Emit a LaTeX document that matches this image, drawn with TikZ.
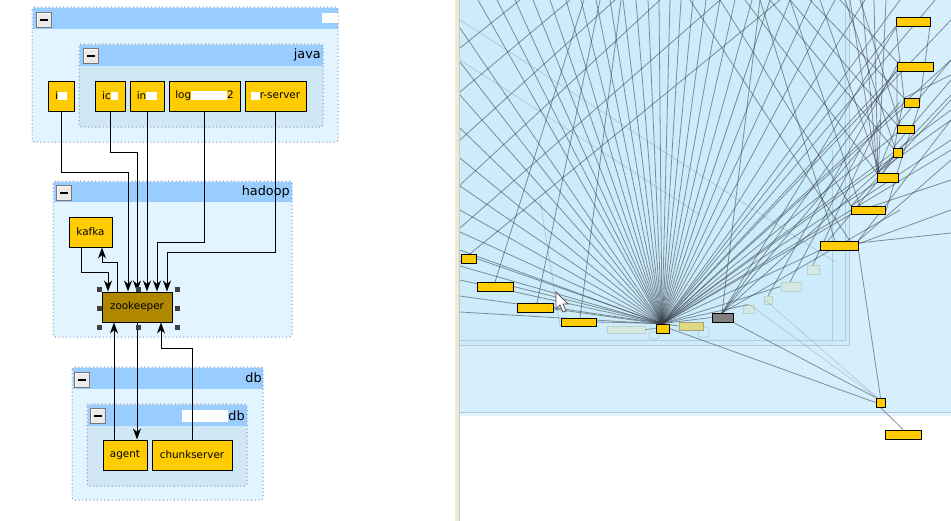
\documentclass[tikz,border=0pt]{standalone}
\usepackage{fontspec}
\setmainfont{DejaVu Sans}
\usetikzlibrary{arrows.meta,fit}
\definecolor{hdr}{RGB}{153,204,255}
\definecolor{gbody}{RGB}{226,244,255}
\definecolor{gbodyin}{RGB}{208,232,245}
\definecolor{gborder}{RGB}{128,144,176}
\definecolor{ynode}{RGB}{255,204,0}
\definecolor{zoocol}{RGB}{176,136,0}
\definecolor{pnlin}{RGB}{204,235,251}
\definecolor{pnlout}{RGB}{213,239,252}
\definecolor{pnlband}{RGB}{228,244,252}
\definecolor{gline}{RGB}{178,202,224}
\definecolor{sepcol}{RGB}{236,233,216}
\definecolor{sepline}{RGB}{205,200,185}
\definecolor{fadefill}{RGB}{214,232,226}
\definecolor{fadedraw}{RGB}{188,210,206}
\definecolor{khaki}{RGB}{226,216,128}
\definecolor{khakidraw}{RGB}{170,165,120}
\definecolor{edgecol}{RGB}{55,62,70}
\definecolor{btnfill}{RGB}{234,234,234}
\definecolor{btndraw}{RGB}{120,120,120}
\definecolor{handlecol}{RGB}{64,64,64}
\definecolor{greynode}{RGB}{128,128,128}
\definecolor{cursordraw}{RGB}{90,90,90}
\newcommand\redact[2]{\textcolor{white}{\rule[-0.8pt]{#1}{#2}}}
\newcommand\mygroup[6]{%
  \fill[#6, rounded corners=2] (#1,#2) rectangle (#3,#4);
  \fill[hdr] (#1+0.5,#2+0.5) rectangle (#3-0.5,#5);
  \draw[gborder, dotted, line width=0.75pt, rounded corners=2] (#1,#2) rectangle (#3,#4);}
\newcommand\minusbtn[2]{%
  \draw[fill=btnfill, draw=btndraw, line width=0.75pt] (#1,#2) rectangle (#1+15,#2+15);
  \draw[white, line width=0.75pt] (#1+1.5,#2+13.5) -- (#1+1.5,#2+1.5) -- (#1+13.5,#2+1.5);
  \fill[black] (#1+3.5,#2+6.5) rectangle (#1+11.5,#2+8.5);}
\tikzset{
  ybox/.style={draw=black, fill=ynode, line width=0.75pt, inner sep=0pt},
  txt/.style={label={[inner sep=0pt, font=\fontsize{7.8}{9}\selectfont]center:#1}},
  rbox/.style={draw=black, fill=ynode, line width=0.75pt, inner sep=0pt},
  fadebox/.style={draw=fadedraw, fill=fadefill, line width=0.75pt, inner sep=0pt},
  hdrtext/.style={font=\fontsize{9.6}{11}\selectfont, inner sep=0pt, anchor=east},
  arr/.style={line width=0.75pt, -{Stealth[length=8.2pt,width=6pt,inset=2.5pt]}},
  edge/.style={draw=edgecol, draw opacity=0.55, line width=0.6pt},
  faint/.style={draw=edgecol, draw opacity=0.18, line width=0.6pt},
  handle/.style={fill=handlecol}
}
\begin{document}
\begin{tikzpicture}[x=0.75pt,y=-0.75pt]
\useasboundingbox (0,0) rectangle (951,521);
\fill[white] (0,0) rectangle (951,521);

% ---------------- left panel: groups ----------------
\mygroup{32}{7}{338}{142}{29}{gbody}
\minusbtn{36}{12}
\fill[white] (322,13) rectangle (338,23);
\mygroup{79}{44}{323}{127}{66}{gbodyin}
\minusbtn{83}{48}
\node[hdrtext] (javat) at (321,55) {java};

\mygroup{53}{181}{292}{337}{202}{gbody}
\minusbtn{56}{185}
\node[hdrtext] (hadoopt) at (290,192) {hadoop};

\mygroup{72}{367}{263}{500}{389}{gbody}
\minusbtn{74}{372}
\node[hdrtext] (dbt) at (262,378) {db};
\mygroup{87}{404}{247}{486}{426}{gbodyin}
\minusbtn{90}{408}
\node[hdrtext] (dbint) at (245,416) {\redact{35pt}{9pt}db};

% ---------------- left panel: nodes ----------------
\node[ybox, fit={(48,81)(74,111)}, txt={i\redact{6.75pt}{6pt}}] (i) {};
\node[ybox, fit={(95,81)(125,111)}, txt={ic\redact{5.25pt}{6pt}}] (ic) {};
\node[ybox, fit={(130,81)(164,111)}, txt={in\redact{8.25pt}{6pt}}] (in) {};
\node[ybox, fit={(169,81)(240,111)}, txt={log\redact{27pt}{6.5pt}2}] (log) {};
\node[ybox, fit={(245,81)(306,111)}, txt={\redact{6.75pt}{6pt}r-server}] (rsrv) {};
\node[ybox, fit={(69,217)(112,247)}, txt={kafka}] (kafka) {};
\node[ybox, fill=zoocol, fit={(102,292)(172,322)}, txt={zookeeper}] (zoo) {};
\node[ybox, fit={(103,440)(147,470)}, txt={agent}] (agent) {};
\node[ybox, fit={(152,440)(232,470)}, txt={chunkserver}] (chunk) {};

% ---------------- left panel: connectors ----------------
\coordinate (b1) at (128,172);
\draw[arr] (i.south) |- (b1) -- (b1 |- zoo.north);
\coordinate (b2) at (137,152);
\draw[arr] (ic.south) |- (b2) -- (b2 |- zoo.north);
\draw[arr] (in.south) -- (in.south |- zoo.north);
\coordinate (b3) at (157,242);
\draw[arr] (log.south) |- (b3) -- (b3 |- zoo.north);
\coordinate (b4) at (167,252);
\draw[arr] (rsrv.south) |- (b4) -- (b4 |- zoo.north);
\coordinate (b5) at (81,272);
\coordinate (b6) at (108,272);
\draw[arr] (b5 |- kafka.south) -- (b5) -- (b6) -- (b6 |- zoo.north);
\coordinate (b7) at (117,262);
\coordinate (b8) at (102,262);
\draw[arr] (b7 |- zoo.north) -- (b7) -- (b8) -- (b8 |- kafka.south);
\coordinate (b9) at (114,0);
\draw[arr] (b9 |- agent.north) -- (b9 |- zoo.south);
\coordinate (b10) at (137,0);
\draw[arr] (b10 |- zoo.south) -- (b10 |- agent.north);
\coordinate (b11) at (161,348);
\draw[arr] (chunk.north) |- (b11) -- (b11 |- zoo.south);

\foreach \hx/\hy in {99/289,138/289,177/289,99/308,177/308,99/327,138/327,177/327}
  \fill[handle] (\hx-2.5,\hy-2.5) rectangle (\hx+2.5,\hy+2.5);

% ---------------- right panel: background ----------------
\fill[sepcol] (455,0) rectangle (460,521);
\draw[sepline, line width=0.75pt] (459.5,0) -- (459.5,521);
\fill[pnlout] (460,0) rectangle (951,412);
\fill[pnlin] (460,0) rectangle (849,345);
\draw[gline, line width=0.75pt] (460,345) -- (849,345) -- (849,0);
\draw[gline, line width=0.6pt] (460,340) -- (845,340) -- (845,0);
\draw[gline, line width=0.6pt] (832,340) -- (832,150);
\fill[pnlband] (460,412) rectangle (951,416);
\draw[gline, line width=0.75pt] (460,412) -- (951,412);

% faded nodes
\node[fadebox, fit={(607,326)(645,333)}] (f1) {};
\node[fadebox, fit={(743,305)(754,313)}] (f3) {};
\node[fadebox, fit={(764,296)(772,304)}] (f4) {};
\node[fadebox, fit={(781,282)(801,291)}] (f5) {};
\node[fadebox, fit={(807,265)(819,274)}] (f6) {};
\node[draw=fadedraw, line width=0.75pt, rounded corners=2, inner sep=0pt, fit={(649,332)(659,339)}] (o1) {};
\node[draw=fadedraw, line width=0.75pt, rounded corners=2, inner sep=0pt, fit={(698,327)(709,337)}] (o2) {};

\coordinate (cnp) at (662,324);

\begin{scope}
\clip (460,0) rectangle (951,521);
% fan from the central node to the top edge
\foreach \t in {478,497,515,533,550,566,581,596,610,623,636,648,659,670,681,693,706,720,735,752,770,790,812,835,865,900,935}
  \draw[edge] (cnp) -- (\t,0);
% fan to the left edge
\foreach \t in {28,62,95,128,158,186,210,232,250,266,280,296,312}
  \draw[edge] (cnp) -- (460,\t);
% fan to the right edge
\foreach \t in {20,60,110,150}
  \draw[edge] (cnp) -- (951,\t);
% lattice rising to the right in the upper left
\foreach \a/\b in {48/520,92/570,140/615,185/660,228/720,262/780}
  \draw[edge] (460,\a) -- (\b,0);
\draw[edge] (495,282) -- (584,0);
\draw[edge] (537,303) -- (600,0);
\draw[edge] (580,318) -- (621,0);
% lines from the right column going up-left
\foreach \a/\b/\c in {850/241/690,851/206/720,877/173/745,893/148/770,897/125/790,904/98/810,897/62/840,835/241/760,860/206/790,880/173/820,895/148/845,900/125/860}
  \draw[edge] (\a,\b) -- (\c,0);
% chain along the right column
\draw[edge] (896,26) -- (904,98) -- (897,133) -- (893,157) -- (877,182) -- (851,214) -- (820,250);
\draw[edge] (897,71) -- (897,125) -- (877,173);
\draw[edge] (930,26) -- (919,107) -- (902,157) -- (885,214);
\foreach \t in {850,862,874,886}
  \draw[edge] (\t,0) -- (878,178);
% right edge lines
\foreach \a/\b/\c in {893/148/80,877/173/95,877/173/120,851/206/100,851/206/140,858/241/120,858/241/160,897/125/60,904/98/75,852/213/180,855/245/210,858/243/233}
  \draw[edge] (\a,\b) -- (951,\c);
% grey node lines
\foreach \t in {21,66,102,152,210}
  \draw[edge] (722,313) -- (900,\t);
\draw[edge] (722,313) -- (760,0);
\draw[edge] (790,282) -- (860,150);
\draw[edge] (813,265) -- (880,120);
\draw[edge] (768,296) -- (900,60);
% faint lines
\draw[faint] (460,20) -- (835,262);
\draw[faint] (460,60) -- (700,215);
\draw[faint] (750,305) -- (880,400);
\draw[faint] (560,326) -- (540,200);
\draw[faint] (765,300) -- (880,400);
\end{scope}

% right panel nodes
\node[draw=khakidraw, fill=khaki, line width=0.75pt, inner sep=0pt, fit={(679,322)(703,330)}] (f2) {};
\node[rbox, fit={(656,324)(669,333)}] (cn) {};
\node[rbox, fill=greynode, fit={(712,313)(733,322)}] (gn) {};
\node[rbox, fit={(461,254)(476,263)}] (L1) {};
\node[rbox, fit={(477,282)(513,291)}] (L2) {};
\node[rbox, fit={(517,303)(553,312)}] (L3) {};
\node[rbox, fit={(561,318)(596,326)}] (L4) {};
\node[rbox, fit={(896,17)(930,26)}] (R1) {};
\node[rbox, fit={(897,62)(933,71)}] (R2) {};
\node[rbox, fit={(904,98)(919,107)}] (R3) {};
\node[rbox, fit={(897,125)(914,133)}] (R4) {};
\node[rbox, fit={(893,148)(902,157)}] (R5) {};
\node[rbox, fit={(877,173)(898,182)}] (R6) {};
\node[rbox, fit={(851,206)(885,214)}] (R7) {};
\node[rbox, fit={(820,241)(858,250)}] (R8) {};
\node[rbox, fit={(876,398)(885,407)}] (S1) {};
\node[rbox, fit={(885,430)(921,439)}] (S2) {};

% lines drawn over/between nodes
\draw[edge] (cn.east) -- (S1.west);
\draw[edge] (gn.south east) -- (S1.north west);
\draw[edge] (R8.south east) -- (S1.north);
\draw[edge] (S1.south) -- (S2.north);
\draw[edge] (cn.north) -- (L4.east);
\draw[edge] (cn.north) -- (L3.east);
\draw[edge] (cn.north) -- (L2.east);
\draw[edge] (cn.north) -- (L1.east);
\draw[edge] (cn.north) -- (f2.west);
\draw[edge] (cn.north) -- (gn.west);
\draw[edge] (cn.north) -- (f3.north);
\draw[edge] (cn.north) -- (f5.west);
\draw[edge] (cn.north) -- (R8.south west);
\draw[edge] (cn.north) -- (R7.south west);
\draw[edge] (cn.north) -- (R6.south west);
\draw[edge] (cn.north) -- (R5.south west);
\draw[edge] (cn.north) -- (R4.south west);
\draw[edge] (cn.north) -- (R3.south west);
\draw[edge] (cn.north) -- (R2.south west);
\draw[edge] (cn.north) -- (R1.south west);
\draw[edge] (f1.east) -- (cn.west);

% mouse cursor
\draw[fill=white, draw=cursordraw, line width=0.6pt, line join=miter]
  (556,292) -- (556,309) -- (560,305) -- (563,312) -- (566,311) -- (563,304) -- (568,304) -- cycle;
\end{tikzpicture}
\end{document}
